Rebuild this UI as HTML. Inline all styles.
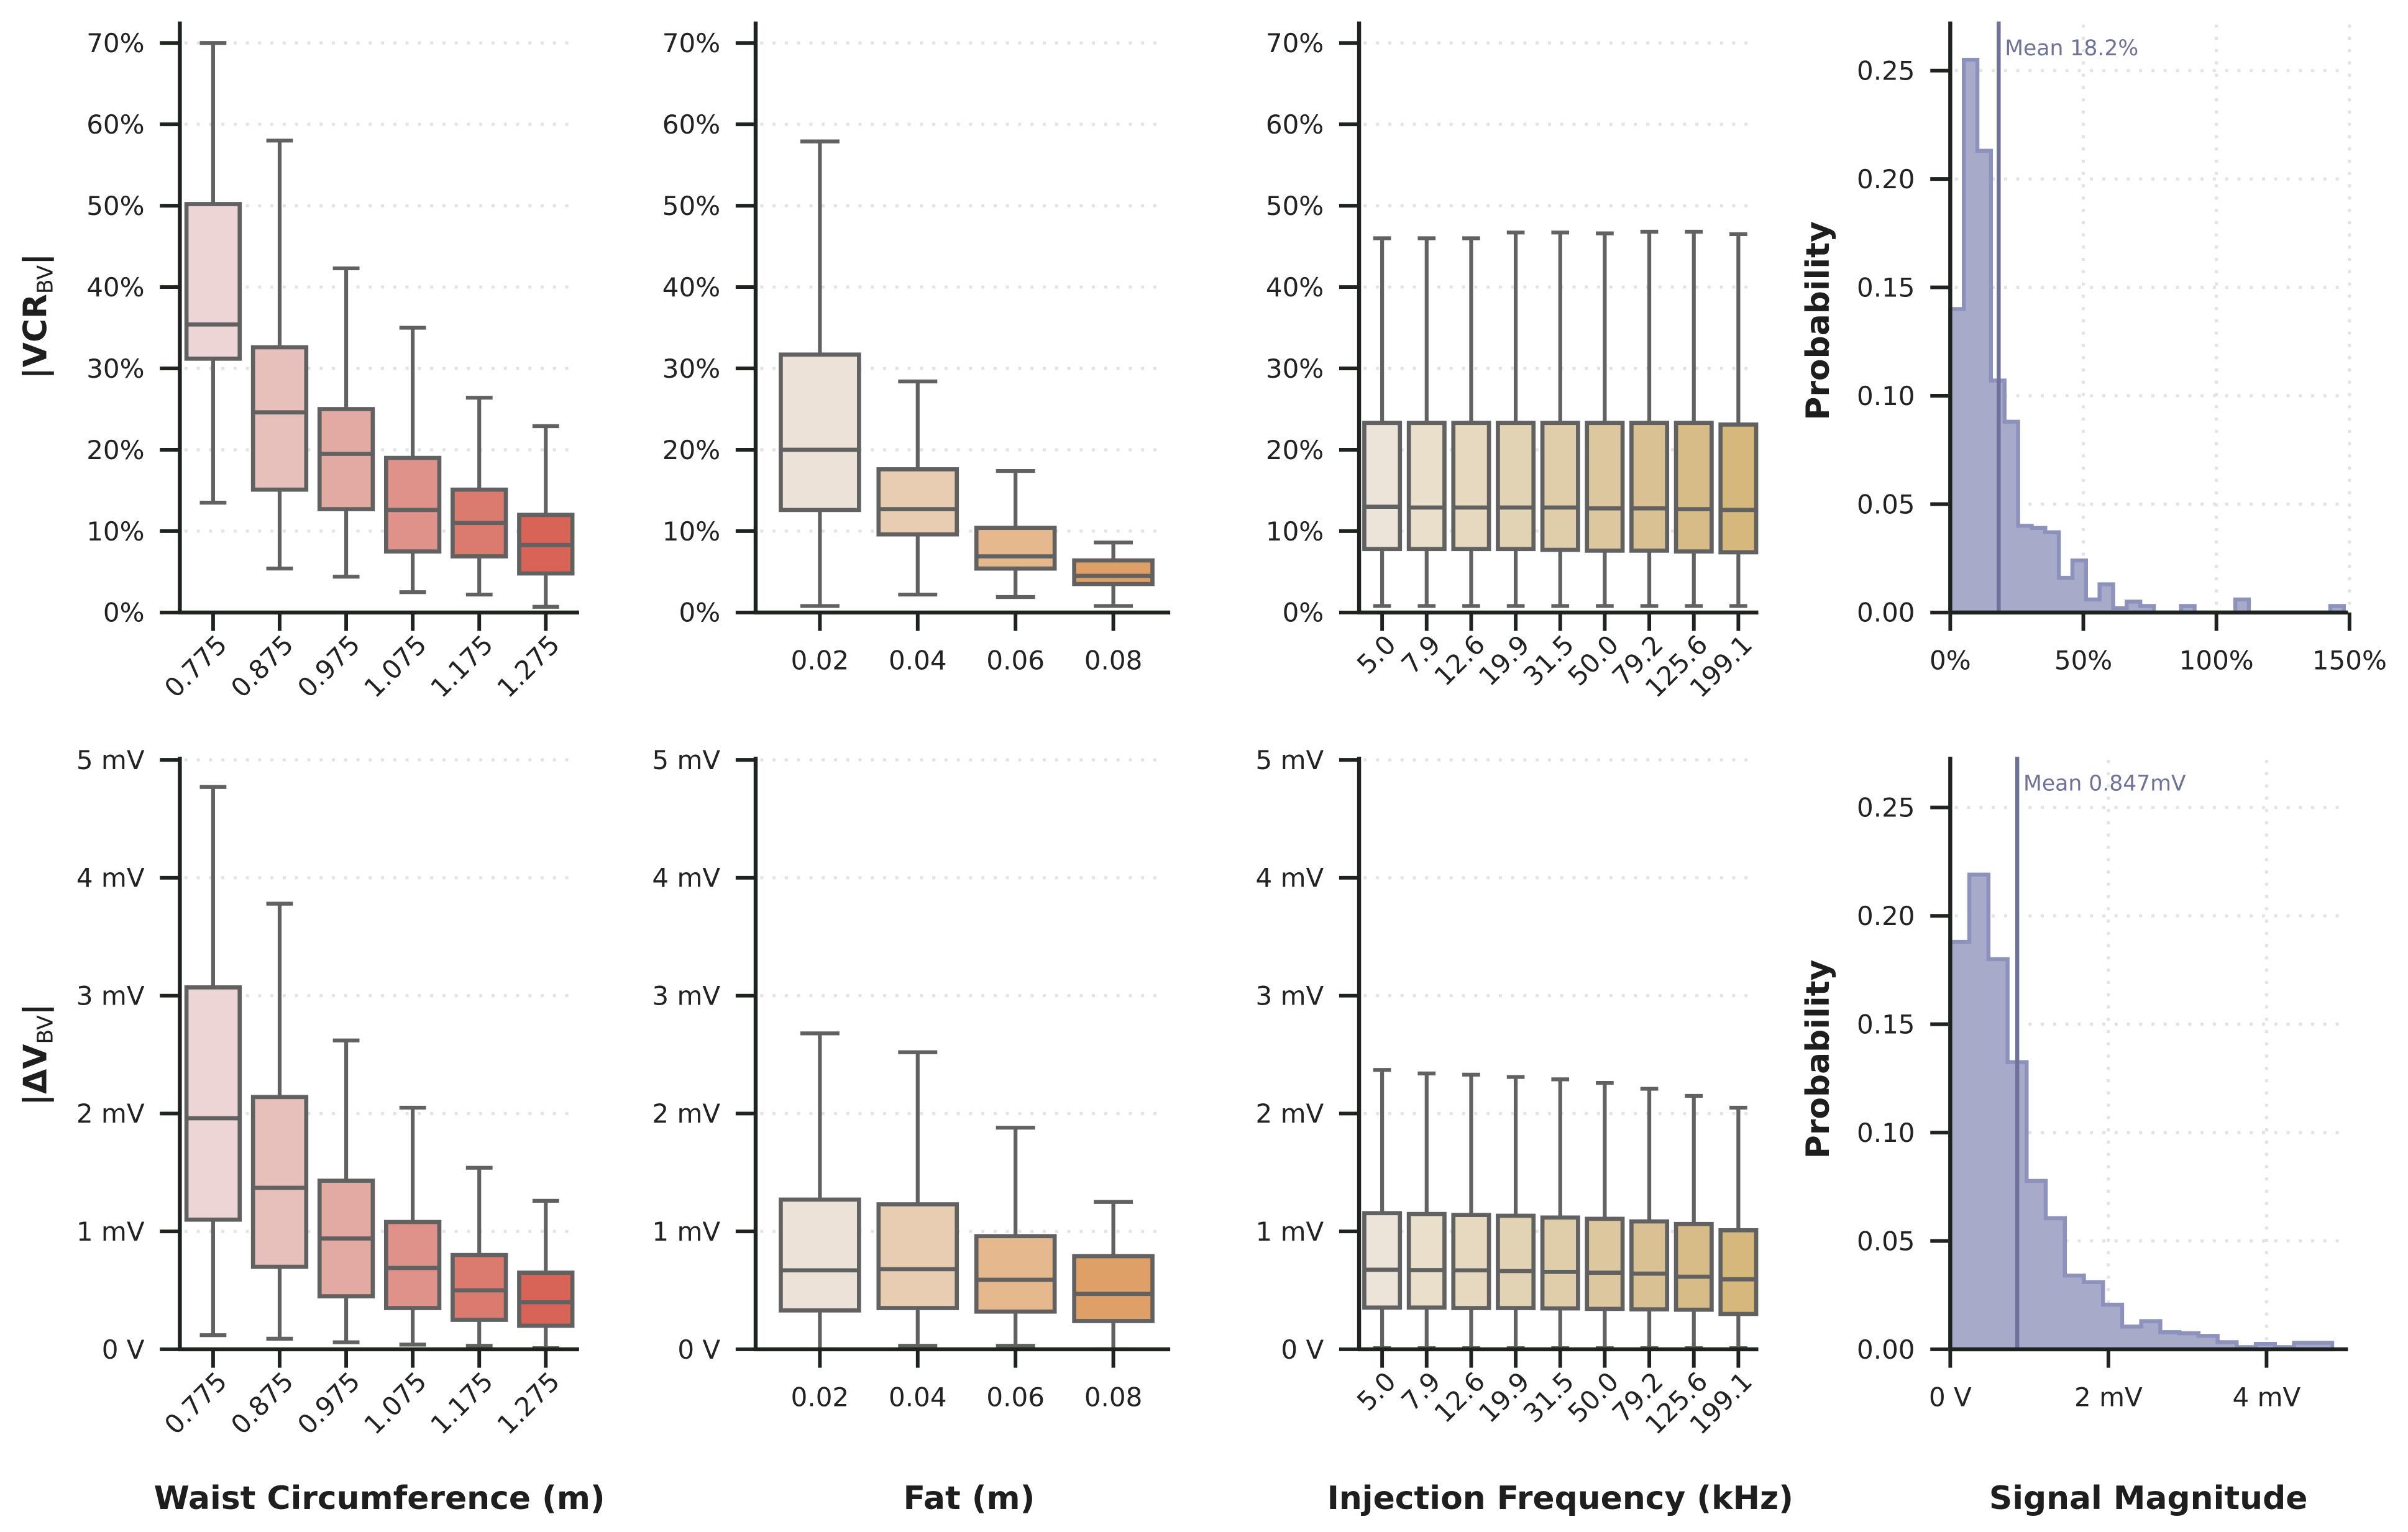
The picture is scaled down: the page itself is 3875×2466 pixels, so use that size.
<!DOCTYPE html>
<html><head><meta charset="utf-8"><style>
html,body{margin:0;padding:0;background:#fff;}
svg{display:block;font-family:"DejaVu Sans","Liberation Sans",sans-serif;}
</style></head><body>
<svg id="chart" width="3875" height="2466" viewBox="0 0 1568 998" xmlns="http://www.w3.org/2000/svg">
<rect width="1568" height="998" fill="#fff"/>
<g id="root"></g>
</svg>
<script>
// ---- data ----
const waistCats = ["0.775","0.875","0.975","1.075","1.175","1.275"];
const fatCats = ["0.02","0.04","0.06","0.08"];
const freqCats = ["5.0","7.9","12.6","19.9","31.5","50.0","79.2","125.6","199.1"];
// box stats: [low whisker, Q1, median, Q3, high whisker]
const vcrWaist = [[13.5,31.2,35.4,50.2,70],[5.4,15.1,24.6,32.6,58],[4.4,12.7,19.5,25,42.3],[2.5,7.5,12.6,19,35],[2.2,6.9,11,15.1,26.4],[0.7,4.8,8.3,12,22.9]];
const vcrFat = [[0.8,12.6,20,31.7,57.9],[2.2,9.6,12.7,17.6,28.4],[1.9,5.4,6.9,10.4,17.4],[0.8,3.5,4.5,6.4,8.6]];
const vcrFreq = [[0.8,7.8,13,23.3,46],[0.8,7.8,12.9,23.3,46],[0.8,7.8,12.9,23.3,46],[0.8,7.8,12.9,23.3,46.7],[0.8,7.7,12.9,23.3,46.7],[0.8,7.6,12.8,23.3,46.6],[0.8,7.6,12.8,23.3,46.8],[0.8,7.5,12.7,23.3,46.8],[0.8,7.4,12.6,23.1,46.5]];
const dvWaist = [[0.12,1.1,1.96,3.07,4.77],[0.09,0.7,1.37,2.14,3.78],[0.06,0.45,0.94,1.43,2.62],[0.04,0.35,0.69,1.08,2.05],[0.03,0.25,0.5,0.8,1.54],[0.01,0.2,0.4,0.65,1.26]];
const dvFat = [[0.0,0.33,0.67,1.27,2.68],[0.03,0.35,0.68,1.23,2.52],[0.03,0.32,0.59,0.96,1.88],[0.0,0.24,0.47,0.79,1.25]];
const dvFreq = [[0.01,0.354,0.675,1.155,2.37],[0.01,0.354,0.672,1.148,2.34],[0.01,0.35,0.67,1.14,2.33],[0.01,0.35,0.664,1.133,2.31],[0.01,0.347,0.657,1.118,2.29],[0.01,0.343,0.65,1.107,2.26],[0.01,0.339,0.642,1.085,2.21],[0.01,0.336,0.616,1.063,2.15],[0.01,0.30,0.594,1.01,2.05]];
const histVcr = [0.14,0.255,0.213,0.107,0.088,0.040,0.039,0.037,0.016,0.024,0.006,0.013,0.002,0.005,0.003,0,0,0.003,0,0,0,0.006,0,0,0,0,0,0,0.003];
const histVcrBinWidth = 5.1;
const histVcrMean = 18.2;
const histDv = [0.188,0.219,0.180,0.1325,0.0777,0.0605,0.034,0.031,0.0206,0.0105,0.013,0.0079,0.0074,0.0062,0.0033,0.001,0.0025,0.001,0.003,0.003];
const histDvBinWidth = 0.2415;
const histDvMean = 0.847;
const pctTicks = [0,10,20,30,40,50,60,70];
const mvTicks = [0,1,2,3,4,5];
const mvTickLabels = ["0 V","1 mV","2 mV","3 mV","4 mV","5 mV"];
const probTicks = [0,0.05,0.10,0.15,0.20,0.25];
const histVcrXTicks = [0,50,100,150];
const histDvXTicks = [0,2,4];
const histDvXLabels = ["0 V","2 mV","4 mV"];
const redPal = ["#edd5d5","#e7bfbb","#e3a9a3","#df9289","#db7b70","#d86457"];
const orgPal = ["#ede2d8","#e9cdb3","#e6b88e","#dea066"];
const tanPal = ["#ece4d8","#e9dfca","#e6d9c0","#e3d3b5","#e0cdaa","#ddc79f","#dac194","#d8bc88","#d6b87c"];

const NS="http://www.w3.org/2000/svg";
const root=document.getElementById('root');
function el(tag,attrs,parent){const e=document.createElementNS(NS,tag);for(const k in attrs)e.setAttribute(k,attrs[k]);(parent||root).appendChild(e);return e;}
function txt(s,attrs,parent){const e=el('text',attrs,parent);e.textContent=s;return e;}
const SPINE="#1e2320", EDGE="#616161", GRID="#e3e3e3";
const FS=17;

function linY(v0,y0,v1,y1){return v=>y0+(v-v0)*(y1-y0)/(v1-v0);}
function linX(v0,x0,v1,x1){return v=>x0+(v-v0)*(x1-x0)/(v1-v0);}

function spines(g,x0,x1,yTop,yBot){
  const l=el('line',{x1:x0,y1:yTop,x2:x0,y2:yBot+1,stroke:SPINE,'stroke-width':2.6},g);
  
  const b=el('line',{x1:x0-1,y1:yBot,x2:x1,y2:yBot,stroke:SPINE,'stroke-width':2.6},g);
  
}
function yTicks(g,x0,x1,Y,ticks,labels,grid){
  ticks.forEach((t,i)=>{
    const y=Y(t);
    if(grid&&i>0){const gl=el('line',{x1:x0+3,y1:y,x2:x1-5,y2:y,stroke:GRID,'stroke-width':2,'stroke-dasharray':'2,6'},g);
      }
    el('line',{x1:x0-13,y1:y,x2:x0,y2:y,stroke:SPINE,'stroke-width':2.4},g);
    const t2=txt(labels[i],{x:x0-23,y:y+6,'font-size':FS,'text-anchor':'end',fill:'#222'},g);
    
  });
}
function boxPanel(name,x0,x1,bandStart,band,yTop,yBot,Y,ticks,labels,cats,stats,pal,rotate){
  const g=el('g',{});
  
  yTicks(g,x0,x1,Y,ticks,labels,true);
  const w=band*0.8;
  cats.forEach((c,i)=>{
    const cx=bandStart+(i+0.5)*band;const s=stats[i];
    const bg=el('g',{},g);
    
    const cap=w*0.5;
    el('line',{x1:cx,y1:Y(s[4]),x2:cx,y2:Y(s[3]),stroke:EDGE,'stroke-width':2.5},bg);
    el('line',{x1:cx,y1:Y(s[1]),x2:cx,y2:Y(s[0]),stroke:EDGE,'stroke-width':2.5},bg);
    el('line',{x1:cx-cap/2,y1:Y(s[4]),x2:cx+cap/2,y2:Y(s[4]),stroke:EDGE,'stroke-width':2.5},bg);
    el('line',{x1:cx-cap/2,y1:Y(s[0]),x2:cx+cap/2,y2:Y(s[0]),stroke:EDGE,'stroke-width':2.5},bg);
    el('rect',{x:cx-w/2,y:Y(s[3]),width:w,height:Y(s[1])-Y(s[3]),fill:pal[i],stroke:EDGE,'stroke-width':2.7},bg);
    el('line',{x1:cx-w/2,y1:Y(s[2]),x2:cx+w/2,y2:Y(s[2]),stroke:EDGE,'stroke-width':2.7},bg);
    el('line',{x1:cx,y1:yBot,x2:cx,y2:yBot+12,stroke:SPINE,'stroke-width':2.4},g);
    let t;
    if(rotate){t=txt(c,{x:cx+10,y:yBot+22,'font-size':FS,'text-anchor':'end',fill:'#222',transform:`rotate(-45 ${cx+10} ${yBot+22})`},g);}
    else{t=txt(c,{x:cx,y:yBot+37,'font-size':FS,'text-anchor':'middle',fill:'#222'},g);}
    
  });
  spines(g,x0,x1,yTop,yBot);
}
function histPanel(name,x0,x1,yTop,yBot,X,Y,xt,xl,vals,bw,mean,meanLabel){
  const g=el('g',{});
  
  xt.forEach((t,i)=>{const x=X(t);
    if(i>0){const gl=el('line',{x1:x,y1:yTop+2,x2:x,y2:yBot,stroke:GRID,'stroke-width':2,'stroke-dasharray':'2,6'},g);
      }});
  probTicks.forEach((t,i)=>{const y=Y(t);
    if(i>0){const gl=el('line',{x1:x0+3,y1:y,x2:x1,y2:y,stroke:GRID,'stroke-width':2,'stroke-dasharray':'2,6'},g);
      }
    el('line',{x1:x0-13,y1:y,x2:x0,y2:y,stroke:SPINE,'stroke-width':2.4},g);
    const tl=txt(t.toFixed(2),{x:x0-23,y:y+6,'font-size':FS,'text-anchor':'end',fill:'#222'},g);
    });
  let d=`M${X(0)},${Y(0)}`;
  vals.forEach((v,i)=>{d+=` L${X(i*bw)},${Y(v)} L${X((i+1)*bw)},${Y(v)}`;});
  d+=` L${X(vals.length*bw)},${Y(0)} Z`;
  const p=el('path',{d:d,fill:'#a7aac9',stroke:'#8d92bd','stroke-width':2.6,'stroke-linejoin':'miter'},g);
  
  const mx=X(mean);
  const ml=el('line',{x1:mx,y1:yTop,x2:mx,y2:yBot,stroke:'#6e7199','stroke-width':2.6},g);
  
  const mt=txt(meanLabel,{x:mx+4,y:yTop+22,'font-size':14,fill:'#6e7199'},g);
  
  xt.forEach((t,i)=>{const x=X(t);
    el('line',{x1:x,y1:yBot,x2:x,y2:yBot+12,stroke:SPINE,'stroke-width':2.4},g);
    const tl=txt(xl[i],{x:x,y:yBot+37,'font-size':FS,'text-anchor':'middle',fill:'#222'},g);
    });
  spines(g,x0,x1,yTop,yBot);
}

const Y1=linY(0,399,70,28), Y2=linY(0,879,5,495);
const pctLabels=pctTicks.map(t=>t+'%');
boxPanel('vcr-waist-panel',117,377,117,260/6,14,399,Y1,pctTicks,pctLabels,waistCats,vcrWaist,redPal,true);
boxPanel('vcr-fat-panel',492,762,502,63.7,14,399,Y1,pctTicks,pctLabels,fatCats,vcrFat,orgPal,false);
boxPanel('vcr-freq-panel',885,1145,885.5,29,14,399,Y1,pctTicks,pctLabels,freqCats,vcrFreq,tanPal,true);
boxPanel('dv-waist-panel',117,377,117,260/6,493,879,Y2,mvTicks,mvTickLabels,waistCats,dvWaist,redPal,true);
boxPanel('dv-fat-panel',492,762,502,63.7,493,879,Y2,mvTicks,mvTickLabels,fatCats,dvFat,orgPal,false);
boxPanel('dv-freq-panel',885,1145,885.5,29,493,879,Y2,mvTicks,mvTickLabels,freqCats,dvFreq,tanPal,true);
histPanel('vcr-histogram',1270,1529,14,399,linX(0,1270,150,1530),linY(0,399,0.25,46),histVcrXTicks,histVcrXTicks.map(t=>t+'%'),histVcr,histVcrBinWidth,histVcrMean,'Mean 18.2%');
histPanel('dv-histogram',1270,1529,493,879,linX(0,1270,4,1476),linY(0,879,0.25,526),histDvXTicks,histDvXLabels,histDv,histDvBinWidth,histDvMean,'Mean 0.847mV');

// axis titles
function title(s,x,y,rot,name){const t=txt(s,{x:x,y:y,'font-size':21,'font-weight':'bold','text-anchor':'middle',fill:'#1e1e1e',transform:rot?`rotate(-90 ${x} ${y})`:''});
  return t;}
title('Waist Circumference (m)',247,983,false,'x-axis-title-waist');
title('Fat (m)',631,983,false,'x-axis-title-fat');
title('Injection Frequency (kHz)',1016,983,false,'x-axis-title-frequency');
title('Signal Magnitude',1399,983,false,'x-axis-title-signal');
title('Probability',1191,209,true,'y-axis-title-probability-top');
title('Probability',1191,690,true,'y-axis-title-probability-bottom');
const v1=txt('',{x:30,y:206,'font-size':21,'font-weight':'bold','text-anchor':'middle',fill:'#1e1e1e',transform:'rotate(-90 30 206)'});

v1.innerHTML='|VCR<tspan font-size="14" font-weight="normal" dy="4">BV</tspan><tspan dy="-4">|</tspan>';
const v2=txt('',{x:30,y:687,'font-size':21,'font-weight':'bold','text-anchor':'middle',fill:'#1e1e1e',transform:'rotate(-90 30 687)'});

v2.innerHTML='|ΔV<tspan font-size="14" font-weight="normal" dy="4">BV</tspan><tspan dy="-4">|</tspan>';
</script>
</body></html>
